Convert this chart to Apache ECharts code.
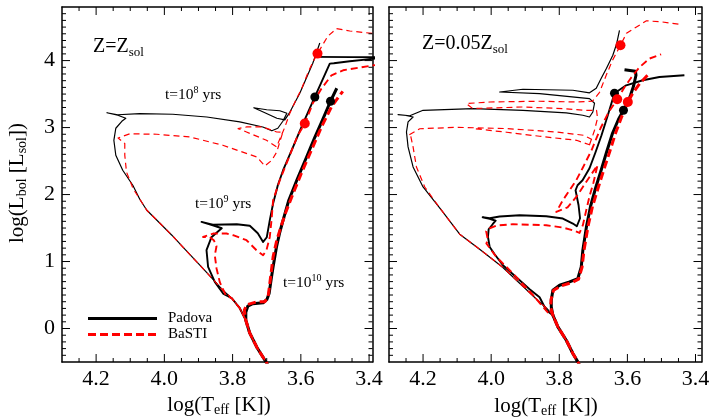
<!DOCTYPE html>
<html>
<head>
<meta charset="utf-8">
<script src="https://cdn.jsdelivr.net/npm/echarts@6/dist/echarts.min.js"></script>
<style>
html,body{margin:0;padding:0;background:#fff}
#chart{width:724px;height:419px}
</style>
</head>
<body>
<div id="chart"></div>
<script>
// Axis tick values
const xTickValues = [3.4, 3.6, 3.8, 4.0, 4.2];
const yTickValues = [0, 1, 2, 3, 4];
const legendNames = ['Padova', 'BaSTI'];

// ---------- Z = Zsol panel : isochrones as [log Teff, log Lbol] ----------
const solMainSeq = [[3.6898,-0.60],[3.7291,-0.279],[3.7496,-0.070],[3.7613,0.124]];

const solPadova1e10 = [[3.7613,0.243],[3.7555,0.333],[3.7408,0.370],[3.7106,0.385],[3.6998,0.430],[3.693,0.522],[3.686,0.770],[3.6813,0.920],[3.6714,1.218],[3.6617,1.437],[3.652,1.617],[3.6353,1.915],[3.6119,2.214],[3.5835,2.557],[3.5591,2.855],[3.5386,3.087],[3.5131,3.393],[3.4947,3.587]];
const solBasti1e10 = [[3.7628,0.124],[3.7657,0.273],[3.7584,0.355],[3.73,0.397],[3.7056,0.400],[3.696,0.472],[3.691,0.672],[3.6813,1.069],[3.6705,1.318],[3.6588,1.512],[3.6441,1.736],[3.6236,2.004],[3.5972,2.333],[3.5679,2.676],[3.5386,3.019],[3.5093,3.318],[3.4771,3.542]];

const solPadova1e9 = [[3.779,0.303],[3.8024,0.452],[3.8278,0.522],[3.8522,0.696],[3.8718,0.920],[3.8765,1.169],[3.8619,1.363],[3.8404,1.460],[3.8317,1.497],[3.858,1.542],[3.8911,1.591],[3.858,1.549],[3.7877,1.557],[3.7496,1.534],[3.7262,1.422],[3.7106,1.293],[3.6998,1.363],[3.691,1.617],[3.6813,1.866],[3.6675,2.139],[3.652,2.363],[3.6227,2.711],[3.598,3.009],[3.559,3.457],[3.5152,3.955],[3.5034,3.960],[3.4567,3.990],[3.38,4.03],null,[3.5607,4.055],[3.45,4.052],[3.38,4.05]];
const solBasti1e9 = [[3.779,0.303],[3.8024,0.452],[3.82,0.497],[3.8375,0.691],[3.8472,0.900],[3.8522,1.094],[3.8472,1.228],[3.8551,1.318],[3.8668,1.363],[3.8865,1.367],[3.8572,1.418],[3.8179,1.418],[3.7985,1.393],[3.7593,1.318],[3.73,1.169],[3.7106,1.094],[3.7007,1.169],[3.691,1.367],[3.686,1.617],[3.6813,1.915],[3.6617,2.2135],[3.6324,2.587],[3.6089,2.885],[3.5884,3.060],[3.565,3.363],[3.5395,3.582],[3.5102,3.781],[3.4762,3.855],[3.38,3.935]];

const solPadova1e8 = [[3.779,0.303],[3.8024,0.452],[3.8287,0.572],[3.858,0.736],[3.896,0.945],[3.940,1.184],[3.978,1.393],[4.013,1.572],[4.0514,1.766],[4.072,1.930],[4.0925,2.139],[4.122,2.363],[4.1423,2.587],[4.148,2.810],[4.1423,2.990],[4.1247,3.094],[4.113,3.139],[4.1364,3.184],[4.1686,3.221],[4.1364,3.191],[4.072,3.209],[3.9753,3.199],[3.8756,3.158],[3.779,3.084],[3.7115,3.009],[3.685,2.952],[3.6675,2.990],[3.6528,3.094],[3.641,3.213],[3.6617,3.251],[3.70,3.266],[3.738,3.296],[3.7086,3.228],[3.6703,3.139],[3.647,3.116],[3.6324,3.228],[3.6031,3.512],[3.565,3.960],[3.5445,4.263]];
const solBasti1e8 = [[3.779,0.303],[3.8024,0.452],[3.8287,0.572],[3.858,0.736],[3.896,0.945],[3.940,1.184],[3.978,1.393],[4.013,1.572],[4.0514,1.766],[4.072,1.930],[4.0916,2.089],[4.111,2.337],[4.116,2.587],[4.116,2.761],[4.1355,2.845],[4.101,2.907],[4.0221,2.900],[3.9254,2.860],[3.8287,2.736],[3.7291,2.561],[3.7056,2.427],[3.685,2.512],[3.6705,2.636],[3.6617,2.785],[3.6529,2.930],[3.6705,2.934],[3.7115,3.009],[3.7584,3.009],[3.7839,2.985],[3.7593,2.934],[3.7007,2.810],[3.6714,2.711],[3.647,3.005],[3.6324,3.214],[3.6148,3.407],[3.5972,3.587],[3.5797,3.811],[3.565,3.975],[3.5512,4.104],[3.5386,4.213],[3.521,4.363],[3.4956,4.478],[3.4565,4.442],[3.38,4.40]];

const solPadovaDots = [[3.559,3.457],[3.5131,3.393]];
const solBastiDots = [[3.5512,4.104],[3.5884,3.060]];

// ---------- Z = 0.05 Zsol panel ----------
const poorMainSeq = [[3.7346,-0.60],[3.7455,-0.498],[3.7601,-0.373],[3.7795,-0.175],[3.8041,0.024],[3.8188,0.199]];

const poorPadova1e10 = [[3.8235,0.323],[3.8235,0.423],[3.8188,0.572],[3.7991,0.646],[3.7698,0.696],[3.7455,0.746],[3.7355,0.920],[3.7308,1.169],[3.72,1.527],[3.7082,1.825],[3.6936,2.094],[3.6789,2.333],[3.6613,2.631],[3.6437,2.915],[3.6261,3.124],[3.6115,3.258],[3.5997,3.363],[3.5909,3.482],[3.5821,3.616],[3.5748,3.781],[3.5763,3.840],[3.6085,3.863]];
const poorBasti1e10 = [[3.8255,0.318],[3.824,0.437],[3.8167,0.572],[3.7933,0.639],[3.764,0.684],[3.7434,0.736],[3.7332,0.915],[3.7273,1.169],[3.7155,1.527],[3.7024,1.825],[3.6862,2.094],[3.6716,2.333],[3.6525,2.631],[3.6349,2.915],[3.6173,3.154],[3.5988,3.382],[3.5842,3.512],[3.5645,3.654],[3.5411,3.781]];

const poorPadova1e9 = [[3.8382,0.273],[3.8578,0.467],[3.8871,0.587],[3.9164,0.721],[3.9458,0.855],[3.9654,0.945],[3.9898,1.109],[4.0044,1.218],[4.0094,1.367],[4.0074,1.482],[3.9956,1.557],[3.9868,1.609],[4.0044,1.639],[4.025,1.661],[4.0044,1.646],[3.9751,1.672],[3.9164,1.691],[3.8382,1.676],[3.7895,1.642],[3.7601,1.567],[3.7484,1.527],[3.739,1.646],[3.7434,1.840],[3.7522,2.064],[3.7463,2.139],[3.7317,2.214],[3.7112,2.393],[3.6936,2.631],[3.676,2.885],[3.6584,3.169],[3.6379,3.512],[3.6035,3.631],[3.5548,3.706],[3.5059,3.755],[3.4326,3.781]];
const poorBasti1e9 = [[3.8343,0.243],[3.8871,0.557],[3.9361,0.821],[3.9848,1.069],[4.0141,1.269],[4.0094,1.318],[4.0147,1.452],[4.0044,1.497],[3.9839,1.537],[3.9361,1.557],[3.8382,1.542],[3.7895,1.507],[3.7601,1.467],[3.7405,1.427],[3.7308,1.542],[3.7208,1.766],[3.7112,1.975],[3.6994,2.184],[3.6877,2.438],[3.7112,2.263],[3.7308,2.113],[3.7502,1.964],[3.7757,1.810],[3.8088,1.740],[3.7895,1.915],[3.7698,2.064],[3.7502,2.214],[3.7317,2.393],[3.7053,2.661],[3.6789,2.990],[3.6554,3.228],[3.6299,3.422],[3.6085,3.602],[3.588,3.751],[3.5645,3.900],[3.5352,4.030],[3.5009,4.094]];

const poorPadova1e8 = [[3.8373,0.303],[3.8666,0.437],[3.9164,0.676],[3.9663,0.915],[4.0338,1.184],[4.0924,1.408],[4.1461,1.766],[4.2,2.113],[4.2293,2.412],[4.244,2.711],[4.2487,2.934],[4.244,3.084],[4.2293,3.158],[4.2537,3.184],[4.2734,3.194],[4.239,3.176],[4.2,3.258],[4.0534,3.284],[3.9067,3.258],[3.7795,3.218],[3.7308,3.184],[3.7112,3.158],[3.7015,3.233],[3.6965,3.363],[3.7112,3.433],[3.8578,3.507],[3.9751,3.531],[3.9067,3.572],[3.7601,3.557],[3.7112,3.519],[3.6915,3.587],[3.6768,3.736],[3.6613,3.885],[3.6428,4.079],[3.632,4.243],[3.6232,4.452]];
const poorBasti1e8 = [[3.8373,0.303],[3.8666,0.437],[3.9164,0.676],[3.9663,0.915],[4.0338,1.184],[4.0924,1.408],[4.1461,1.766],[4.195,2.113],[4.2194,2.412],[4.2293,2.711],[4.2361,2.870],[4.2434,2.885],[4.2097,2.982],[4.1012,3.004],[3.9546,2.985],[3.8079,2.934],[3.7288,2.885],[3.7053,2.825],[3.7112,2.743],[3.7493,2.810],[3.8578,2.870],[3.9546,2.930],[4.0455,2.982],null,[3.7112,2.743],[3.6965,2.960],[3.6877,3.139],[3.6906,3.258],[3.7258,3.258],[3.7904,3.284],[3.9076,3.307],[4.0543,3.284],[4.0728,3.358],[4.0044,3.382],[3.8578,3.393],[3.7493,3.382],[3.7024,3.393],[3.6818,3.527],[3.6622,3.781],[3.6437,4.005],[3.6203,4.228],[3.6027,4.407],[3.5733,4.502],[3.544,4.594],[3.4971,4.576],[3.4472,4.542]];

const poorPadovaDots = [[3.6379,3.512],[3.6115,3.258]];
const poorBastiDots = [[3.6203,4.228],[3.6299,3.422],[3.5988,3.382]];

// ---------- styling and layout ----------
const SERIF = 'Liberation Serif';
const RED = '#ff0000';
const BLACK = '#000000';
const GRID_TOP = 7, GRID_HEIGHT = 355;
const panels = [
  { left: 62, width: 310.5, xMin: 3.39, xMax: 4.3, yLabels: true },
  { left: 389, width: 312.5, xMin: 3.3824, xMax: 4.3, yLabels: false }
];
const Y_MIN = -0.5, Y_MAX = 4.8;
const MAJOR_LEN = 8, MINOR_LEN = 4;   // tick lengths in pixels

function minorValues(lo, hi, step, majorStep) {
  const out = [];
  const n0 = Math.ceil(lo / step - 1e-6), n1 = Math.floor(hi / step + 1e-6);
  for (let n = n0; n <= n1; n++) {
    const v = +(n * step).toFixed(4);
    const r = v / majorStep;
    if (Math.abs(r - Math.round(r)) < 1e-6) continue;
    out.push(v);
  }
  return out;
}
const xMinorValues = minorValues(3.41, 4.29, 0.05, 0.2);
const yMinorValues = minorValues(-0.49, 4.79, 0.1, 1);

// Each panel: frame on four sides (bottom/top x axes, left/right y axes)
const grids = [], xAxes = [], yAxes = [];
panels.forEach((p, gi) => {
  grids.push({ left: p.left, top: GRID_TOP, width: p.width, height: GRID_HEIGHT, outerBoundsMode: 'none', containLabel: false });
  const base = { gridIndex: gi, splitLine: { show: false }, splitArea: { show: false }, axisTick: { show: false } };
  const frame = { show: true, onZero: false, lineStyle: { color: BLACK, width: 1.5 } };
  ['bottom', 'top'].forEach(pos => {
    xAxes.push(Object.assign({}, base, {
      type: 'value', min: p.xMin, max: p.xMax, inverse: true, position: pos, axisLine: frame,
      axisLabel: pos === 'bottom' ? {
        show: true, customValues: xTickValues, margin: 6,
        formatter: v => Number(v).toFixed(1),
        color: BLACK, fontFamily: SERIF, fontSize: 22
      } : { show: false }
    }));
  });
  ['left', 'right'].forEach(pos => {
    yAxes.push(Object.assign({}, base, {
      type: 'value', min: Y_MIN, max: Y_MAX, position: pos, axisLine: frame,
      axisLabel: (pos === 'left' && p.yLabels) ? {
        show: true, customValues: yTickValues, margin: 7,
        formatter: v => String(Math.round(v)),
        color: BLACK, fontFamily: SERIF, fontSize: 22
      } : { show: false }
    }));
  });
});

// Inward tick marks on all four sides, as short segments in axis units
function tickMarks(gi) {
  const p = panels[gi];
  const xPerPx = (p.xMax - p.xMin) / p.width;
  const yPerPx = (Y_MAX - Y_MIN) / GRID_HEIGHT;
  const segs = [];
  const gap = ['-', '-'];
  const addX = (v, len) => {
    segs.push([v, Y_MIN], [v, Y_MIN + len * yPerPx], gap);
    segs.push([v, Y_MAX], [v, Y_MAX - len * yPerPx], gap);
  };
  const addY = (v, len) => {
    segs.push([p.xMax, v], [p.xMax - len * xPerPx, v], gap);
    segs.push([p.xMin, v], [p.xMin + len * xPerPx, v], gap);
  };
  xTickValues.forEach(v => addX(v, MAJOR_LEN));
  xMinorValues.forEach(v => addX(v, MINOR_LEN));
  yTickValues.forEach(v => addY(v, MAJOR_LEN));
  yMinorValues.forEach(v => addY(v, MINOR_LEN));
  return {
    type: 'line', xAxisIndex: gi * 2, yAxisIndex: gi * 2, data: segs,
    symbol: 'none', connectNulls: false, clip: false, silent: true, animation: false, z: 6,
    lineStyle: { color: BLACK, width: 1, cap: 'butt' }
  };
}

function track(name, points, gi, color, width, dash, z) {
  return {
    type: 'line', name: name, xAxisIndex: gi * 2, yAxisIndex: gi * 2,
    data: points.map(pt => pt ? pt : ['-', '-']),
    symbol: 'none', connectNulls: false, clip: true, silent: true, animation: false, z: z,
    lineStyle: { color: color, width: width, type: dash || 'solid', cap: 'butt', join: 'round' }
  };
}
function dots(name, points, gi, color, size) {
  return {
    type: 'scatter', name: name, xAxisIndex: gi * 2, yAxisIndex: gi * 2,
    data: points, symbol: 'circle', symbolSize: size, silent: true, animation: false, z: 10,
    itemStyle: { color: color, opacity: 1 }
  };
}

const THIN = 1.2, MID = 1.9, THICK = 3;
const series = [
  tickMarks(0), tickMarks(1),
  // metal-rich panel
  track('Padova', solMainSeq.concat(solPadova1e10), 0, BLACK, THICK, null, 2),
  track('Padova', solMainSeq.concat(solPadova1e9), 0, BLACK, MID, null, 2),
  track('Padova', solMainSeq.concat(solPadova1e8), 0, BLACK, THIN, null, 2),
  track('BaSTI', solMainSeq.concat(solBasti1e10), 0, RED, THICK, [8, 4], 3),
  track('BaSTI', solMainSeq.concat(solBasti1e9), 0, RED, MID, [7, 4], 3),
  track('BaSTI', solMainSeq.concat(solBasti1e8), 0, RED, THIN, [6, 4], 3),
  dots('Padova tips', solPadovaDots, 0, BLACK, 9),
  dots('BaSTI tips', solBastiDots, 0, RED, 10),
  // metal-poor panel
  track('Padova', poorMainSeq.concat(poorPadova1e10), 1, BLACK, THICK, null, 2),
  track('Padova', poorMainSeq.concat(poorPadova1e9), 1, BLACK, MID, null, 2),
  track('Padova', poorMainSeq.concat(poorPadova1e8), 1, BLACK, THIN, null, 2),
  track('BaSTI', poorMainSeq.concat(poorBasti1e10), 1, RED, THICK, [8, 4], 3),
  track('BaSTI', poorMainSeq.concat(poorBasti1e9), 1, RED, MID, [7, 4], 3),
  track('BaSTI', poorMainSeq.concat(poorBasti1e8), 1, RED, THIN, [6, 4], 3),
  dots('Padova tips', poorPadovaDots, 1, BLACK, 9),
  dots('BaSTI tips', poorBastiDots, 1, RED, 10)
];

function label(x, y, text, rich, extra) {
  return Object.assign({
    type: 'text', x: x, y: y, silent: true, z: 20,
    style: { text: text, rich: rich, align: 'left', verticalAlign: 'middle', fill: BLACK }
  }, extra || {});
}
const subRich = (big, small) => ({
  a: { fontFamily: SERIF, fontSize: big, lineHeight: big + 4, fill: BLACK },
  s: { fontFamily: SERIF, fontSize: small, lineHeight: 8, verticalAlign: 'bottom', fill: BLACK }
});
const supRich = (big, small) => ({
  a: { fontFamily: SERIF, fontSize: big, lineHeight: big + 4, fill: BLACK },
  p: { fontFamily: SERIF, fontSize: small, lineHeight: 6, verticalAlign: 'top', fill: BLACK }
});

const graphics = [
  label(93, 47, '{a|Z=Z}{s|sol}', subRich(20, 13)),
  label(422, 44, '{a|Z=0.05Z}{s|sol}', subRich(20, 13)),
  label(165, 95, '{a|t=10}{p|8}{a| yrs}', supRich(15.5, 10)),
  label(195, 204, '{a|t=10}{p|9}{a| yrs}', supRich(15.5, 10)),
  label(283, 283, '{a|t=10}{p|10}{a| yrs}', supRich(15.5, 10)),
  label(219, 405, '{a|log(T}{s|eff}{a| [K])}', subRich(21, 14)),
  label(546, 406, '{a|log(T}{s|eff}{a| [K])}', subRich(21, 14)),
  label(17, 183, '{a|log(L}{s|bol}{a| [L}{s|sol}{a|])}', subRich(21, 14), { rotation: Math.PI / 2 }),
  // legend
  { type: 'line', silent: true, z: 20, shape: { x1: 88, y1: 318.5, x2: 157, y2: 318.5 }, style: { stroke: BLACK, lineWidth: 3 } },
  { type: 'line', silent: true, z: 20, shape: { x1: 88, y1: 334.5, x2: 157, y2: 334.5 }, style: { stroke: RED, lineWidth: 3, lineDash: [8, 4] } },
  label(168, 318, legendNames[0], null, {}),
  label(168, 334, legendNames[1], null, {})
];
graphics[5].style.align = 'center';
graphics[6].style.align = 'center';
graphics[7].style.align = 'center';
[10, 11].forEach(i => {
  delete graphics[i].style.rich;
  graphics[i].style.font = '15px "Liberation Serif"';
});

const chart = echarts.init(document.getElementById('chart'), null, { renderer: 'canvas' });
chart.setOption({
  animation: false,
  backgroundColor: '#ffffff',
  grid: grids,
  xAxis: xAxes,
  yAxis: yAxes,
  graphic: graphics,
  series: series
});
</script>
</body>
</html>
